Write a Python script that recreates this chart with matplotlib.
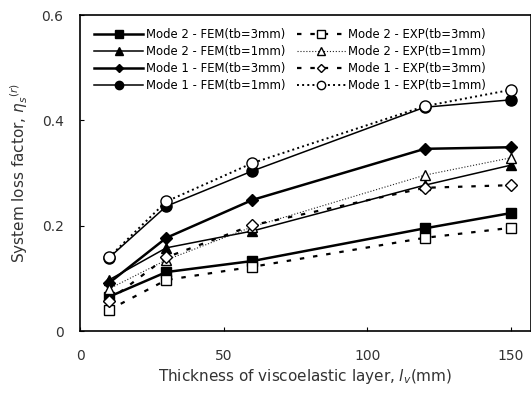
import matplotlib
matplotlib.use('Agg')
import matplotlib.pyplot as plt
import numpy as np

# thickness of viscoelastic layer (mm)
thickness = [10, 30, 60, 120, 150]

# system loss factor
m2_fem_3mm = [0.065, 0.112, 0.133, 0.195, 0.224]
m2_fem_1mm = [0.097, 0.158, 0.190, 0.277, 0.315]
m1_fem_3mm = [0.091, 0.177, 0.249, 0.346, 0.349]
m1_fem_1mm = [0.139, 0.237, 0.304, 0.425, 0.439]
m2_exp_3mm = [0.040, 0.097, 0.122, 0.177, 0.196]
m2_exp_1mm = [0.080, 0.135, 0.198, 0.296, 0.329]
m1_exp_3mm = [0.058, 0.140, 0.201, 0.272, 0.277]
m1_exp_1mm = [0.140, 0.246, 0.319, 0.427, 0.458]

labels_fem = ['Mode 2 - FEM(tb=3mm)', 'Mode 2 - FEM(tb=1mm)',
              'Mode 1 - FEM(tb=3mm)', 'Mode 1 - FEM(tb=1mm)']
labels_exp = ['Mode 2 - EXP(tb=3mm)', 'Mode 2 - EXP(tb=1mm)',
              'Mode 1 - EXP(tb=3mm)', 'Mode 1 - EXP(tb=1mm)']

plt.rcParams['font.family'] = ['DejaVu Sans']

fig = plt.figure(figsize=(5.31, 3.96), dpi=100)
ax = fig.add_axes([0.151, 0.164, 0.849, 0.798])

grey = '#222222'
# FEM curves (solid, filled markers)
ax.plot(thickness, m2_fem_3mm, '-', color='k', lw=1.8, marker='s', ms=7, label=labels_fem[0])
ax.plot(thickness, m2_fem_1mm, '-', color='k', lw=1.1, marker='^', ms=7, label=labels_fem[1])
ax.plot(thickness, m1_fem_3mm, '-', color='k', lw=1.8, marker='D', ms=6, label=labels_fem[2])
ax.plot(thickness, m1_fem_1mm, '-', color='k', lw=1.1, marker='o', ms=8, label=labels_fem[3])
# EXP curves (dashed / dotted, open markers)
ax.plot(thickness, m2_exp_3mm, '--', color='k', lw=1.6, dashes=(2, 4), marker='s',
        ms=7, mfc='white', mec='k', label=labels_exp[0])
ax.plot(thickness, m2_exp_1mm, ':', color=grey, lw=0.8, marker='^', ms=7, mfc='white',
        mec='k', label=labels_exp[1])
ax.plot(thickness, m1_exp_3mm, '--', color='k', lw=1.6, dashes=(2, 4), marker='D',
        ms=6, mfc='white', mec='k', label=labels_exp[2])
ax.plot(thickness, m1_exp_1mm, ':', color='k', lw=1.4, marker='o', ms=8, mfc='white',
        mec='k', label=labels_exp[3])

ax.set_xlim(0, 157)
ax.set_ylim(0, 0.6)
ax.set_xticks([0, 50, 100, 150])
ax.set_yticks([0, 0.2, 0.4, 0.6])
ax.set_yticklabels(['0', '0.2', '0.4', '0.6'])
ax.tick_params(direction='in', length=3, labelsize=10, labelcolor='#333333')
ax.tick_params(axis='x', pad=13)
ax.tick_params(axis='y', pad=12)
for sp in ax.spines.values():
    sp.set_linewidth(1.2)

ax.set_xlabel('Thickness of viscoelastic layer, $l_v$(mm)', fontsize=11, color='#333333', labelpad=3)
ax.set_ylabel(r'System loss factor, $\eta_s{}^{(r)}$', fontsize=11, color='#333333', labelpad=8)

ax.legend(loc='upper left', ncol=2, frameon=False, fontsize=8.4, handlelength=4.2,
          handletextpad=0.2, columnspacing=1.0, labelspacing=0.35,
          bbox_to_anchor=(0.008, 0.992), markerscale=0.75)

fig.savefig('out.png', dpi=100)
